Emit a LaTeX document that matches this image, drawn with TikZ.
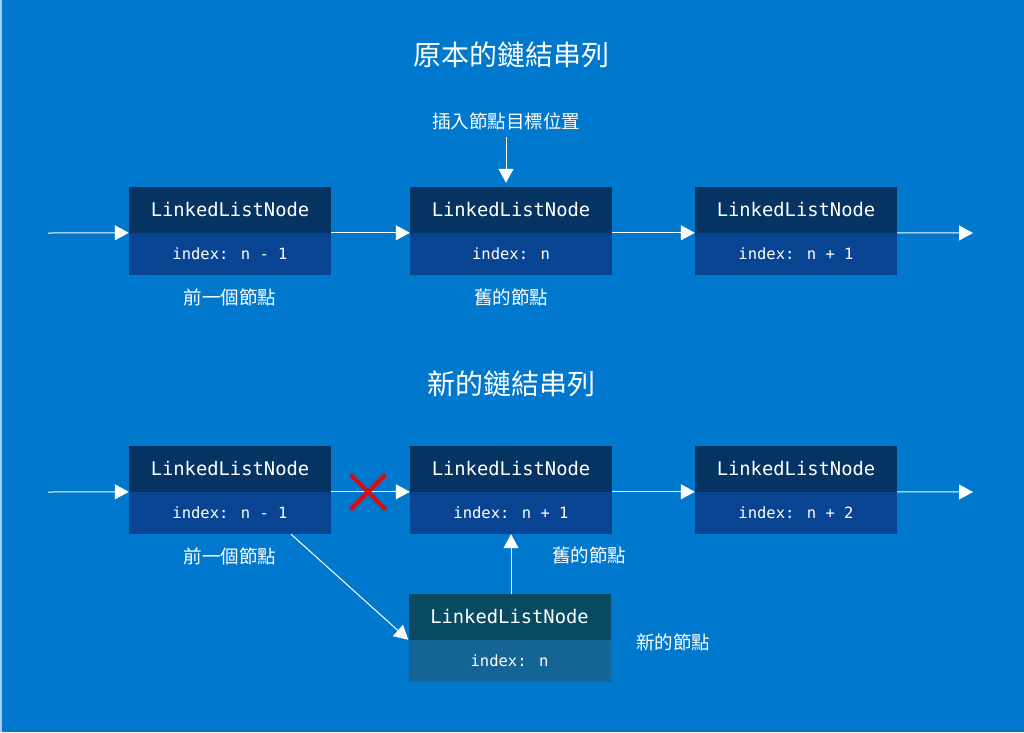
\documentclass[tikz,border=0pt]{standalone}
\usepackage{fontspec}
\newfontfamily\cjk{Noto Sans CJK TC}
\newfontfamily\mono{DejaVu Sans Mono}
\usetikzlibrary{arrows.meta}
\definecolor{bg}{RGB}{0,120,206}
\definecolor{hdcol}{RGB}{6,52,98}
\definecolor{idxcol}{RGB}{8,68,146}
\definecolor{nhdcol}{RGB}{8,74,98}
\definecolor{nidxcol}{RGB}{20,100,150}
\definecolor{xred}{RGB}{208,16,20}
\newcommand{\lln}{\raisebox{2pt}{LinkedListNode}}
\begin{document}
\begin{tikzpicture}[x=1pt,y=-1pt,
  hd/.style={fill=hdcol, minimum width=202pt, minimum height=46pt, inner sep=0pt, text=white, font=\mono\fontsize{18.8}{19}\selectfont},
  idx/.style={fill=idxcol, minimum width=202pt, minimum height=42pt, inner sep=0pt, text=white, font=\mono\fontsize{15.5}{16}\selectfont},
  lbl/.style={text=white, inner sep=0pt, font=\cjk\fontsize{18.5}{20}\selectfont},
  ttl/.style={text=white, inner sep=0pt, font=\cjk\fontsize{28}{30}\selectfont},
  link/.style={draw=white, line width=1pt, -{Triangle[length=14pt,width=15pt,fill=white]}}
]
\fill[bg] (0,0) rectangle (1024,732);
\useasboundingbox (0,0) rectangle (1024,732);
\draw[color={rgb,255:red,170;green,205;blue,235}, line width=1.5pt] (0.75,0) -- (0.75,732);

% ---------- original list ----------
\node[ttl] (t1) at (511,55) {原本的鏈結串列};
\node[lbl] (ins) at (506,121) {插入節點目標位置};

\node[hd] (a1) at (230,210) {\lln};
\node[idx] (a1b) at (230,254) {index: n - 1};
\node[hd] (a2) at (511,210) {\lln};
\node[idx] (a2b) at (511,254) {index: n};
\node[hd] (a3) at (796,210) {\lln};
\node[idx] (a3b) at (796,254) {index: n + 1};

\node[lbl] (p1) at (230,297) {前一個節點};
\node[lbl] (o1) at (511,297) {舊的節點};

\coordinate (s1) at (48,233);
\coordinate (e1) at (973,233);
\draw[link] (s1) -- (a1b.north west);
\draw[link] (a1b.north east) -- (a2b.north west);
\draw[link] (a2b.north east) -- (a3b.north west);
\draw[link] (a3b.north east) -- (e1);
\draw[link, shorten <=7pt, shorten >=4pt] (ins.south) -- (ins.south |- a2.north);

% ---------- new list ----------
\node[ttl] (t2) at (511,384) {新的鏈結串列};

\node[hd] (b1) at (230,469) {\lln};
\node[idx] (b1b) at (230,513) {index: n - 1};
\node[hd] (b2) at (511,469) {\lln};
\node[idx] (b2b) at (511,513) {index: n + 1};
\node[hd] (b3) at (796,469) {\lln};
\node[idx] (b3b) at (796,513) {index: n + 2};
\node[hd, fill=nhdcol] (nn) at (509.5,617) {\lln};
\node[idx, fill=nidxcol] (nnb) at (509.5,661) {index: n};

\node[lbl] (p2) at (230,556) {前一個節點};
\node[lbl] (o2) at (589,555) {舊的節點};
\node[lbl] (n2) at (673,642) {新的節點};

\coordinate (s2) at (48,492);
\coordinate (e2) at (973,492);
\draw[link] (s2) -- (b1b.north west);
\draw[link] (b1b.north east) -- (b2b.north west);
\draw[link] (b2b.north east) -- (b3b.north west);
\draw[link] (b3b.north east) -- (e2);
\draw[link] ([xshift=61pt]b1b.south) -- (nnb.north west);
\draw[link] (nn.north -| b2b.south) -- (b2b.south);

% red cross
\coordinate (xc) at (368,492);
\draw[xred, line width=4.5pt] ([shift={(-17.5,-17.5)}]xc) -- ([shift={(17.5,17.5)}]xc)
  ([shift={(-17.5,17.5)}]xc) -- ([shift={(17.5,-17.5)}]xc);
\end{tikzpicture}
\end{document}
